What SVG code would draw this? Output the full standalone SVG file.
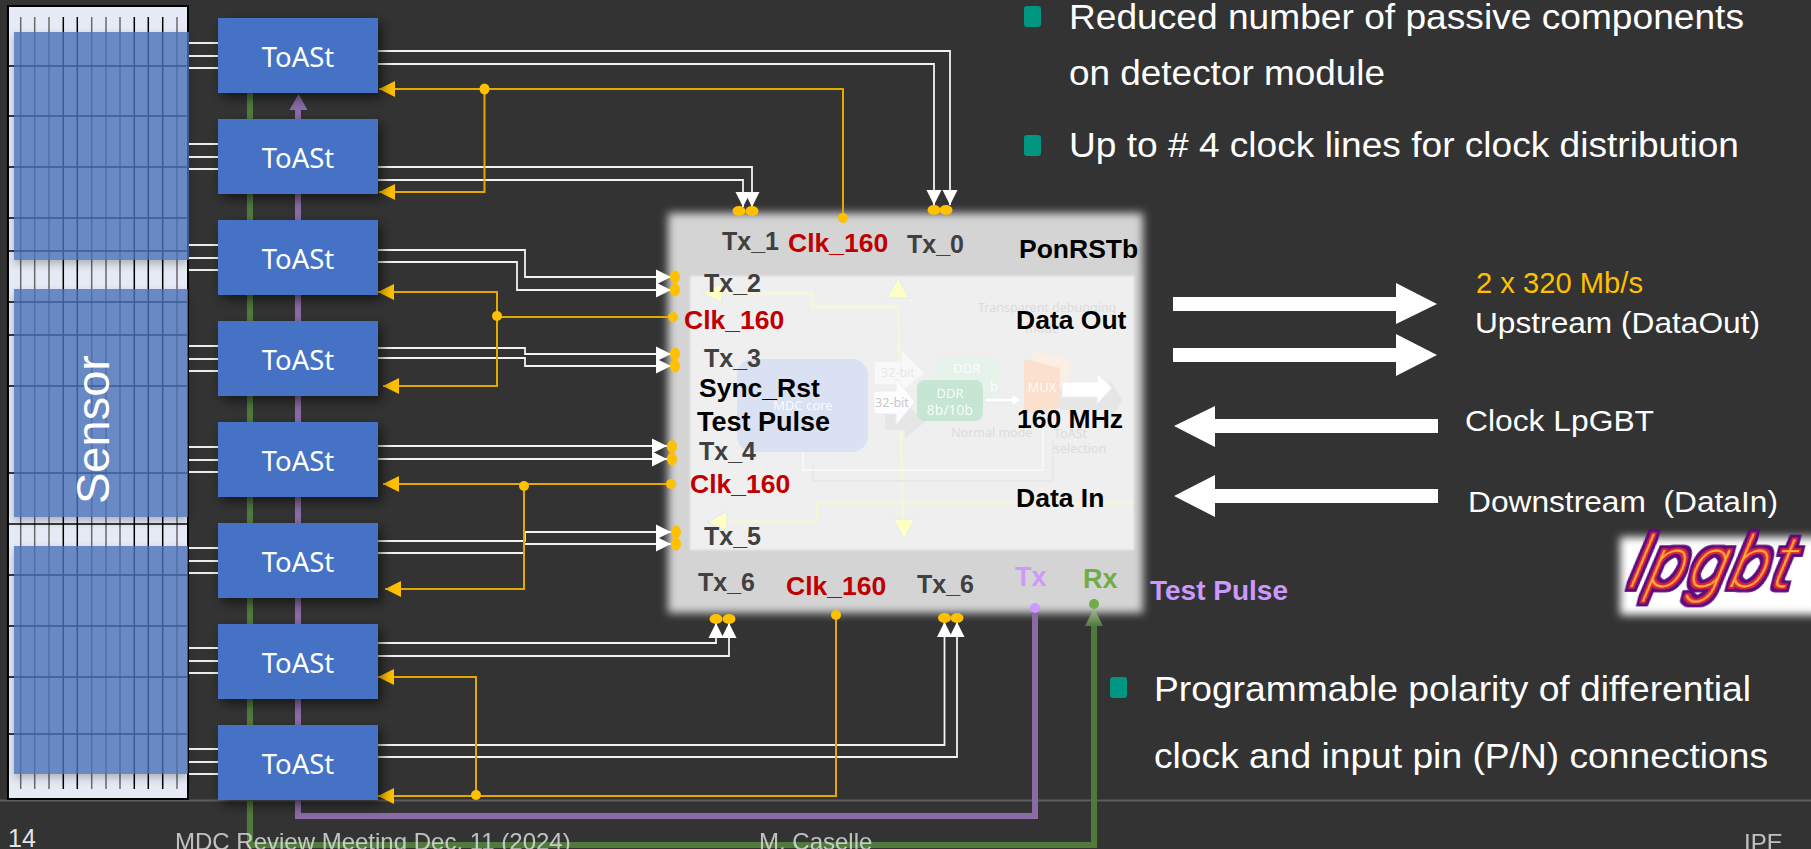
<svg xmlns="http://www.w3.org/2000/svg" width="1811" height="849" viewBox="0 0 1811 849">
<style>
text{font-family:"Liberation Sans",Arial,sans-serif}
.toast rect{fill:#4472c4;filter:url(#sh)}
.toast text{font-family:"Noto Sans","Open Sans",sans-serif;font-size:27.5px;fill:#fff;text-anchor:middle}
.w{fill:none;stroke:#f2f2f2;stroke-width:1.8;marker-end:url(#wa)}
.o{fill:none;stroke:#e2aa00;stroke-width:2;marker-end:url(#oa)}
.ol{fill:none;stroke:#e2aa00;stroke-width:2}
.sl{stroke:#ececec;stroke-width:2}
.d{fill:#ffc000}
.b{font-weight:bold;font-size:26.5px;fill:#000}
.tx{font-weight:bold;font-size:25px;fill:#404040}
.ck{font-weight:bold;font-size:26.5px;fill:#c00000}
.big{font-size:35px;fill:#fff}
.mid{font-size:30px;fill:#fff;white-space:pre}
.ft{font-size:24px;fill:#e4e4e4;opacity:.8}
.fade{font-family:"Noto Sans","Open Sans",sans-serif;font-size:12.5px;fill:#dcdcdc}
.fw{font-family:"Noto Sans","Open Sans",sans-serif;font-size:13px;fill:#fff;text-anchor:middle;opacity:.85}
.tri{fill:#ffffc4;stroke:#e4eef0;stroke-width:1.5}
.yl{fill:none;stroke:#f5f5dc;stroke-width:3}
.bul{fill:#009682}
.arr{fill:#fff}
.vg{stroke:#6a6a6a;stroke-width:1.5}
.vk{stroke:#000;stroke-width:1.5}
.hg{stroke:#000;stroke-width:1.5}
.panel{fill:#4a72b8;opacity:.8;filter:url(#sh2)}
</style>
<defs>
<filter id="sh" x="-20%" y="-30%" width="140%" height="170%"><feDropShadow dx="4" dy="5" stdDeviation="6" flood-color="#000" flood-opacity=".55"/></filter>
<filter id="sh2" x="-5%" y="-5%" width="110%" height="112%"><feDropShadow dx="0" dy="4" stdDeviation="4" flood-color="#000" flood-opacity=".3"/></filter>
<filter id="bl" x="-5%" y="-5%" width="110%" height="110%"><feGaussianBlur stdDeviation="4.5"/></filter>
<filter id="bl1" x="-5%" y="-5%" width="110%" height="110%"><feGaussianBlur stdDeviation="1"/></filter>
<filter id="bl2" x="-10%" y="-15%" width="120%" height="130%"><feGaussianBlur stdDeviation="4"/></filter>
<filter id="neon" x="-15%" y="-30%" width="130%" height="160%">
<feMorphology in="SourceAlpha" operator="dilate" radius="4.5" result="a"/>
<feFlood flood-color="#5c0a7c"/><feComposite in2="a" operator="in" result="A"/>
<feMorphology in="SourceAlpha" operator="dilate" radius="2" result="b"/>
<feFlood flood-color="#d8203c"/><feComposite in2="b" operator="in" result="B"/>
<feMerge result="m"><feMergeNode in="A"/><feMergeNode in="B"/><feMergeNode in="SourceGraphic"/></feMerge>
<feGaussianBlur in="m" stdDeviation=".6"/>
</filter>
<linearGradient id="ga" x1="0" y1="0" x2="0" y2="1"><stop offset="0" stop-color="#a9bd9c"/><stop offset="1" stop-color="#507a3c"/></linearGradient>
<marker id="wa" markerUnits="userSpaceOnUse" markerWidth="16" markerHeight="16" refX="15" refY="8" orient="auto"><path d="M0,0.5 L15,8 L0,15.5 Z" fill="#fff"/></marker>
<marker id="oa" markerUnits="userSpaceOnUse" markerWidth="17" markerHeight="17" refX="16" refY="8.5" orient="auto"><path d="M0,0.5 L16,8.5 L0,16.5 Z" fill="#ffc000"/></marker>
</defs>
<rect width="1811" height="849" fill="#333333"/>
<line x1="0" y1="800.5" x2="1811" y2="800.5" stroke="#5f5f5f" stroke-width="2"/>

<g id="sensor">
<rect x="8" y="6" width="180" height="793" fill="#e6eaf5" stroke="#000" stroke-width="2"/>
<g>
<path class="vg" d="M20.7,17V789M34.7,17V789M49,17V789M91.7,17V789M106,17V789M120,17V789M177,17V789"/>
<path class="vk" d="M63.3,17V789M77.3,17V789M134.3,17V789M148.3,17V789M162.7,17V789"/>
<path class="hg" d="M8,66H188M8,116H188M8,167H188M8,218H188M8,251H188M8,302H188M8,335H188M8,386H188M8,473H188M8,524H188M8,575H188M8,626H188M8,677H188M8,734H188"/>
</g>
<rect class="panel" x="14" y="32" width="175" height="228"/>
<rect class="panel" x="14" y="289" width="174" height="228"/>
<rect class="panel" x="14" y="546" width="174" height="228"/>
<text transform="translate(109,504) rotate(-90)" font-size="47" fill="#fff">Sensor</text>
<path class="sl" d="M189,43H218M189,56H218M189,68H218M189,144H218M189,157H218M189,169H218M189,245H218M189,258H218M189,270H218M189,346H218M189,359H218M189,371H218M189,447H218M189,460H218M189,472H218M189,548H218M189,561H218M189,573H218M189,648H218M189,661H218M189,673H218M189,749H218M189,762H218M189,774H218"/>
</g>

<g id="chip">
<rect x="668" y="213" width="475" height="400" fill="#d4d4d4" filter="url(#bl)"/>
<rect x="690" y="276" width="444" height="274" fill="#efefef" filter="url(#bl1)"/>
<g id="chip-faded">
<path class="yl" d="M722,293H812V307H898L903,519"/>
<path class="yl" d="M727,521H817V503H1133"/>
<path class="tri" d="M898,278L909,298H887Z"/>
<path class="tri" d="M904,539L893,519H915Z"/>
<path class="tri" d="M702,293L722,283V303Z"/>
<path class="tri" d="M707,522L727,511V532Z"/>
<path d="M813,463V481H1053V440" fill="none" stroke="#e8e8e8" stroke-width="2"/>
<path d="M803,452V470H1043V427" fill="none" stroke="#fafafa" stroke-width="1.5"/>
<rect x="737" y="359" width="131" height="93" rx="16" fill="#d9e1f2"/>
<text class="fw" x="803" y="410">MDC core</text>
<path d="M885,412H905V404L926,421L905,438V430H885Z" fill="#e6e6e6"/>
<path d="M1060,390H1110V380L1123,400L1110,420V410H1060Z" fill="#e6e6e6"/>
<path d="M875,362H902V351L924,373L902,391V384H875Z" fill="#f8f8f8"/>
<text class="fade" x="898" y="377" text-anchor="middle" style="fill:#e8e8e8">32-bit</text>
<path d="M874,391H896V378L915,402L896,425V414H874Z" fill="#fdfdfd" stroke="#e8ecf4"/>
<text class="fade" x="892" y="407" text-anchor="middle" style="fill:#c8c8c8">32-bit</text>
<rect x="935" y="357" width="64" height="40" rx="8" fill="#e6f3eb"/>
<text class="fw" x="967" y="373">DDR</text>
<text class="fw" x="994" y="391">b</text>
<rect x="917" y="380" width="66" height="41" rx="8" fill="#c6e5d3"/>
<text class="fw" x="950" y="398">DDR</text>
<text class="fw" x="950" y="415" style="font-size:14px">8b/10b</text>
<path d="M985,398H1012V394L1022,400L1012,406V402H985Z" fill="#fff" stroke="#e6eaf2"/>
<path d="M1033,351L1069,359V390H1033Z" fill="#fbeee3"/>
<path d="M1024,359L1060,368V408L1024,414Z" fill="#fbe0cd"/>
<text class="fw" x="1042" y="392">MUX</text>
<path d="M1062,382H1097V373L1112,388L1097,404V397H1062Z" fill="#fff" stroke="#e9edf4"/>
<text class="fade" x="978" y="312">Transparent debugging</text>
<text class="fade" x="1042" y="333" text-anchor="middle">mode</text>
<text class="fade" x="951" y="437">Normal mode</text>
<text class="fade" x="1054" y="438">ToASt</text>
<text class="fade" x="1054" y="453">selection</text>
</g>
</g>

<g id="connectors">
<polyline points="250,93 250,845 1094,845 1094,626" fill="none" stroke="#507a3c" stroke-width="6"/>
<polyline points="298,110 298,816 1035,816 1035,608" fill="none" stroke="#8a6ba6" stroke-width="6"/>
<path d="M298.5,94L307.5,110H289.5Z" fill="#8a6ba6"/>
<path d="M1094,608L1103,626H1085Z" fill="url(#ga)"/>
<circle cx="1035" cy="608" r="5" fill="#cc99ff"/>
<circle cx="1094" cy="604" r="5" fill="#70ad47"/>

<path class="w" d="M378,51H950V205"/>
<path class="w" d="M378,64H934V205"/>
<path class="w" d="M378,167H752V207"/>
<path class="w" d="M378,180H743V207"/>
<path class="w" d="M378,250H525V277H671"/>
<path class="w" d="M378,262H517V290H671"/>
<path class="w" d="M378,348H525V354H671"/>
<path class="w" d="M378,358H525V366H671"/>
<path class="w" d="M378,446H667"/>
<path class="w" d="M378,459H667"/>
<path class="w" d="M378,541H525V532H671"/>
<path class="w" d="M378,553H524V544H671"/>
<path class="w" d="M378,643H716V623"/>
<path class="w" d="M378,656H729V623"/>
<path class="w" d="M378,745H944.5V622"/>
<path class="w" d="M378,757H957V622"/>

<path class="o" d="M843,218V89H379"/>
<path class="o" d="M484.5,89V192H379"/>
<path class="ol" d="M673,317H497"/>
<path class="o" d="M497,316V292H378"/>
<path class="o" d="M497,316V386H383"/>
<path class="o" d="M671,484H383"/>
<path class="o" d="M524,486V589H385"/>
<path class="o" d="M836,615V796H378"/>
<path class="o" d="M476,796V677H378"/>

<g class="d">
<ellipse cx="739" cy="211" rx="6.5" ry="5"/><ellipse cx="752" cy="211" rx="6.5" ry="5"/>
<ellipse cx="934" cy="210" rx="6.5" ry="5"/><ellipse cx="946" cy="210" rx="6.5" ry="5"/>
<circle cx="843" cy="218" r="5"/>
<ellipse cx="484.5" cy="89" rx="5" ry="5.5"/>
<ellipse cx="675" cy="277" rx="5" ry="6.5"/><ellipse cx="675" cy="290" rx="5" ry="6.5"/>
<circle cx="673" cy="317" r="5"/><circle cx="497" cy="316" r="5"/>
<ellipse cx="675" cy="354" rx="5" ry="6.5"/><ellipse cx="675" cy="366" rx="5" ry="6.5"/>
<ellipse cx="672" cy="446.5" rx="5" ry="6.5"/><ellipse cx="672" cy="459" rx="5" ry="6.5"/>
<circle cx="671" cy="484" r="5"/><circle cx="524" cy="486" r="5"/>
<ellipse cx="676" cy="532" rx="5" ry="6.5"/><ellipse cx="676" cy="544" rx="5" ry="6.5"/>
<ellipse cx="716" cy="619" rx="6.5" ry="5"/><ellipse cx="729" cy="619" rx="6.5" ry="5"/>
<circle cx="836" cy="615" r="5"/>
<ellipse cx="944.5" cy="618" rx="6.5" ry="5"/><ellipse cx="957" cy="618" rx="6.5" ry="5"/>
<circle cx="476" cy="795" r="5"/>
</g>

<path class="arr" d="M1173,297H1396V283L1437,304L1396,324V311H1173Z"/>
<path class="arr" d="M1173,348H1396V334L1437,355L1396,376V362H1173Z"/>
<path class="arr" d="M1438,419H1215V406L1174,426L1215,447V433H1438Z"/>
<path class="arr" d="M1438,489H1215V475L1174,496L1215,517V503H1438Z"/>
</g>

<g id="toast-1" class="toast"><rect x="218" y="18" width="160" height="75"/><text x="298" y="67">ToASt</text></g>
<g id="toast-2" class="toast"><rect x="218" y="119" width="160" height="75"/><text x="298" y="168">ToASt</text></g>
<g id="toast-3" class="toast"><rect x="218" y="220" width="160" height="75"/><text x="298" y="269">ToASt</text></g>
<g id="toast-4" class="toast"><rect x="218" y="321" width="160" height="75"/><text x="298" y="370">ToASt</text></g>
<g id="toast-5" class="toast"><rect x="218" y="422" width="160" height="75"/><text x="298" y="471">ToASt</text></g>
<g id="toast-6" class="toast"><rect x="218" y="523" width="160" height="75"/><text x="298" y="572">ToASt</text></g>
<g id="toast-7" class="toast"><rect x="218" y="624" width="160" height="75"/><text x="298" y="673">ToASt</text></g>
<g id="toast-8" class="toast"><rect x="218" y="725" width="160" height="75"/><text x="298" y="774">ToASt</text></g>

<g id="chip-labels">
<text class="tx" x="722" y="250">Tx_1</text>
<text class="ck" x="788" y="252">Clk_160</text>
<text class="tx" x="907" y="253">Tx_0</text>
<text class="b" x="1019" y="258">PonRSTb</text>
<text class="tx" x="704" y="292">Tx_2</text>
<text class="ck" x="684" y="329">Clk_160</text>
<text class="b" x="1016" y="329">Data Out</text>
<text class="tx" x="704" y="367">Tx_3</text>
<text class="b" x="699" y="397">Sync_Rst</text>
<text class="b" x="697" y="431" style="font-size:27px">Test Pulse</text>
<text class="b" x="1017" y="428">160 MHz</text>
<text class="tx" x="699" y="460">Tx_4</text>
<text class="ck" x="690" y="493">Clk_160</text>
<text class="b" x="1016" y="507">Data In</text>
<text class="tx" x="704" y="545">Tx_5</text>
<text class="tx" x="698" y="591">Tx_6</text>
<text class="ck" x="786" y="595">Clk_160</text>
<text class="tx" x="917" y="593">Tx_6</text>
<text x="1015" y="586" font-size="27" font-weight="bold" fill="#cc99ff">Tx</text>
<text x="1083" y="588" font-size="27" font-weight="bold" fill="#70ad47">Rx</text>
</g>
<text x="1150" y="600" font-size="28" font-weight="bold" fill="#cc99ff">Test Pulse</text>

<g id="notes">
<rect class="bul" x="1024" y="6" width="17" height="21" rx="3"/>
<text class="big" x="1069" y="29" textLength="675" lengthAdjust="spacingAndGlyphs">Reduced number of passive components</text>
<text class="big" x="1069" y="85" textLength="316" lengthAdjust="spacingAndGlyphs">on detector module</text>
<rect class="bul" x="1024" y="135" width="17" height="21" rx="3"/>
<text class="big" x="1069" y="157" textLength="670" lengthAdjust="spacingAndGlyphs">Up to # 4 clock lines for clock distribution</text>
<rect class="bul" x="1110" y="677" width="17" height="21" rx="3"/>
<text class="big" x="1154" y="701" textLength="597" lengthAdjust="spacingAndGlyphs">Programmable polarity of differential</text>
<text class="big" x="1154" y="768" textLength="614" lengthAdjust="spacingAndGlyphs">clock and input pin (P/N) connections</text>
</g>
<g id="link-labels">
<text class="mid" x="1476" y="293" style="fill:#ffc000;font-size:29px" textLength="167" lengthAdjust="spacingAndGlyphs">2 x 320 Mb/s</text>
<text class="mid" x="1475" y="333" textLength="285" lengthAdjust="spacingAndGlyphs">Upstream (DataOut)</text>
<text class="mid" x="1465" y="431" textLength="189" lengthAdjust="spacingAndGlyphs">Clock LpGBT</text>
<text class="mid" x="1468" y="512" textLength="310" lengthAdjust="spacingAndGlyphs" xml:space="preserve">Downstream  (DataIn)</text>
</g>

<g id="logo">
<rect x="1620" y="537" width="200" height="78" fill="#fff" filter="url(#bl2)"/>
<text transform="translate(1628,587) skewX(-14)" font-size="70" font-style="italic" font-weight="100" letter-spacing="4" fill="#ffb030" filter="url(#neon)" style="font-family:Roboto,'Liberation Sans',sans-serif">lpgbt</text>
</g>

<g id="footer">
<text x="8" y="847" font-size="25" fill="#e4e4e4">14</text>
<text class="ft" x="175" y="850">MDC Review Meeting Dec. 11 (2024)</text>
<text class="ft" x="759" y="850">M. Caselle</text>
<text class="ft" x="1744" y="851">IPE</text>
</g>
</svg>
